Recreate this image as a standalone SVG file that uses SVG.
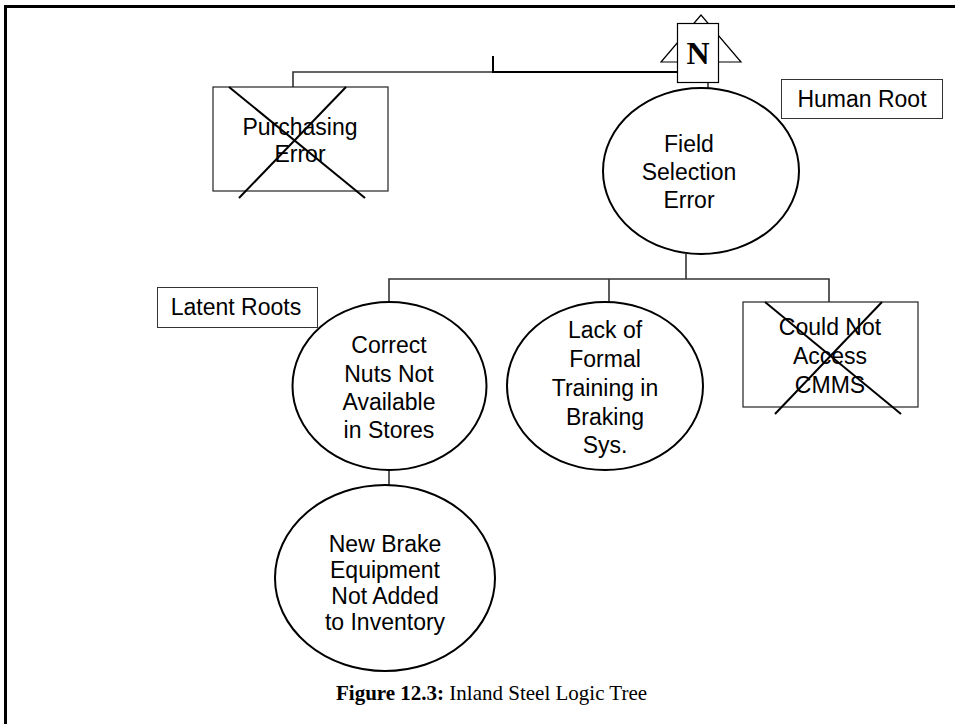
<svg xmlns="http://www.w3.org/2000/svg" width="955" height="724" viewBox="0 0 955 724">
  <style>
    .lbl { font-family: "Liberation Sans", Arial, sans-serif; font-size: 23px; fill: #000; text-anchor: middle; }
    .node { fill: #fff; stroke: #000; stroke-width: 2; }
    .box { fill: #fff; stroke: #222; stroke-width: 1.2; }
    .tag { fill: #fff; stroke: #333; stroke-width: 1; }
    .wire { fill: none; stroke: #333; stroke-width: 1.6; }
    .cross { stroke: #000; stroke-width: 2; }
    .cap { font-family: "Liberation Serif", "Times New Roman", serif; font-size: 21px; fill: #000; }
  </style>

  <!-- page frame (top and left rules) -->
  <path d="M5.5 724 V6.5 H955" fill="none" stroke="#000" stroke-width="3"/>

  <!-- connectors -->
  <g id="connectors">
    <path class="wire" d="M293 87 V72 H493"/>
    <path d="M493 56 V72 H678" fill="none" stroke="#000" stroke-width="2"/>
    <path class="wire" d="M708 83 V88"/>
    <path class="wire" d="M686 254 V279"/>
    <path class="wire" d="M389 302 V279 H829 V302"/>
    <path class="wire" d="M609 279 V302"/>
    <path class="wire" d="M389 470 V485"/>
  </g>

  <!-- N (not-in-scope) marker at the top -->
  <g id="n-marker">
    <polygon points="701,15 661,62 741,62" fill="#fff" stroke="#000" stroke-width="1.2"/>
    <rect x="677.5" y="23.5" width="41" height="59" fill="#fff" stroke="#000" stroke-width="1.2"/>
    <text x="698" y="64" font-family="Liberation Serif, 'Times New Roman', serif" font-size="32" font-weight="bold" text-anchor="middle">N</text>
  </g>

  <g id="purchasing-error">
    <rect class="box" x="213" y="87" width="175" height="104"/>
    <text class="lbl" x="300" y="135">Purchasing</text>
    <text class="lbl" x="300" y="162">Error</text>
    <line class="cross" x1="229" y1="87" x2="365" y2="198"/>
    <line class="cross" x1="346" y1="87" x2="239" y2="198"/>
  </g>

  <g id="field-selection-error">
    <ellipse class="node" cx="701" cy="171" rx="98" ry="83"/>
    <text class="lbl" x="689" y="152">Field</text>
    <text class="lbl" x="689" y="180">Selection</text>
    <text class="lbl" x="689" y="208">Error</text>
  </g>

  <g id="human-root">
    <rect class="tag" x="781.5" y="79.5" width="161" height="39"/>
    <text class="lbl" x="862" y="107">Human Root</text>
  </g>

  <g id="latent-roots">
    <rect class="tag" x="157.5" y="287.5" width="160" height="40"/>
    <text class="lbl" x="236" y="315">Latent Roots</text>
  </g>

  <g id="correct-nuts">
    <ellipse class="node" cx="389.5" cy="386" rx="97" ry="84"/>
    <text class="lbl" x="389" y="353">Correct</text>
    <text class="lbl" x="389" y="382">Nuts Not</text>
    <text class="lbl" x="389" y="410">Available</text>
    <text class="lbl" x="389" y="438">in Stores</text>
  </g>

  <g id="lack-of-training">
    <ellipse class="node" cx="605" cy="386" rx="98" ry="84"/>
    <text class="lbl" x="605" y="338">Lack of</text>
    <text class="lbl" x="605" y="367">Formal</text>
    <text class="lbl" x="605" y="396">Training in</text>
    <text class="lbl" x="605" y="425">Braking</text>
    <text class="lbl" x="605" y="453">Sys.</text>
  </g>

  <g id="could-not-access">
    <rect class="box" x="743" y="302" width="175" height="105"/>
    <text class="lbl" x="830" y="335">Could Not</text>
    <text class="lbl" x="830" y="364">Access</text>
    <text class="lbl" x="830" y="393">CMMS</text>
    <line class="cross" x1="765" y1="302" x2="901" y2="414"/>
    <line class="cross" x1="882" y1="302" x2="775" y2="414"/>
  </g>

  <g id="new-brake-equipment">
    <ellipse class="node" cx="385" cy="578" rx="110" ry="93"/>
    <text class="lbl" x="385" y="552">New Brake</text>
    <text class="lbl" x="385" y="578">Equipment</text>
    <text class="lbl" x="385" y="604">Not Added</text>
    <text class="lbl" x="385" y="630">to Inventory</text>
  </g>

  <text class="cap" x="336" y="700"><tspan font-weight="bold">Figure 12.3:</tspan> Inland Steel Logic Tree</text>
</svg>
